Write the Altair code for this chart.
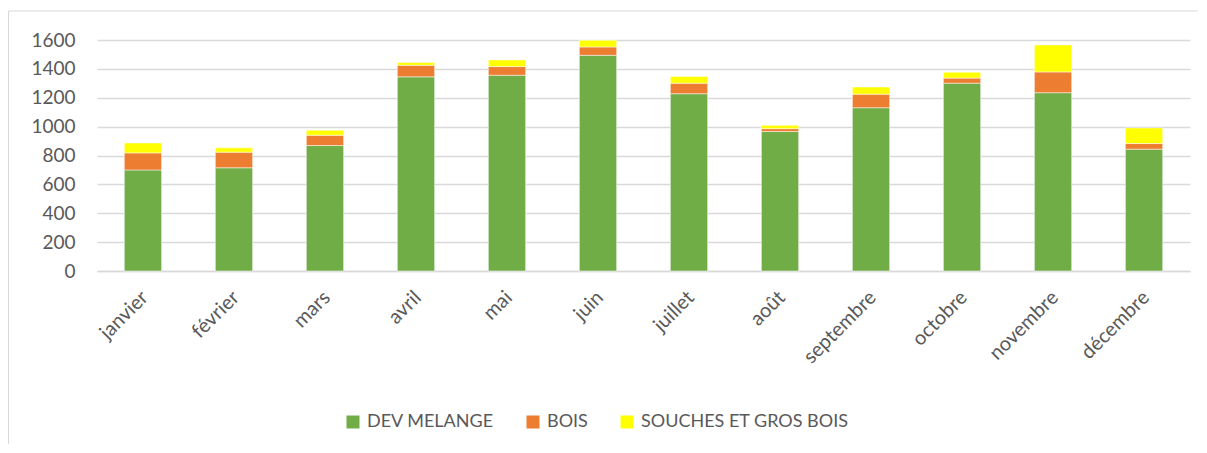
import altair as alt
import pandas as pd

months = ["janvier", "février", "mars", "avril", "mai", "juin", "juillet",
          "août", "septembre", "octobre", "novembre", "décembre"]
dev_melange = [700, 715, 869, 1345, 1356, 1494, 1228, 966, 1131, 1301, 1235, 844]
bois = [118, 108, 71, 80, 60, 58, 73, 20, 94, 35, 144, 39]
souches = [69, 30, 35, 19, 46, 46, 46, 23, 49, 41, 187, 108]
series = ["DEV MELANGE", "BOIS", "SOUCHES ET GROS BOIS"]
colors = ["#70AD47", "#ED7D31", "#FFFF00"]

rows = []
for i, m in enumerate(months):
    for k, (name, vals) in enumerate(zip(series, [dev_melange, bois, souches])):
        rows.append({"mois": m, "serie": name, "valeur": vals[i], "ordre": k})
df = pd.DataFrame(rows)

font = "Lato"

bars = alt.Chart(df).mark_bar(stroke="white", strokeWidth=0.5).encode(
    x=alt.X("mois:N", sort=months, title=None,
            scale=alt.Scale(paddingInner=0.59, paddingOuter=0.3),
            axis=alt.Axis(labelAngle=-45, ticks=False, domain=True, domainColor="#D9D9D9",
                          domainWidth=1.5, labelFontSize=20, labelColor="#595959",
                          labelFont=font, labelPadding=16, labelOffset=-5)),
    y=alt.Y("valeur:Q", stack="zero", title=None,
            scale=alt.Scale(domain=[0, 1600], nice=False),
            axis=alt.Axis(values=list(range(0, 1601, 200)), format="d", domain=False, ticks=False,
                          gridColor="#D9D9D9", gridWidth=1.5, labelFontSize=19,
                          labelColor="#595959", labelFont=font, labelPadding=22)),
    color=alt.Color("serie:N", sort=series, title=None,
                    scale=alt.Scale(domain=series, range=colors),
                    legend=alt.Legend(orient="none", legendX=247, legendY=373, direction="horizontal",
                                      symbolType="square", symbolSize=169, symbolStrokeWidth=0,
                                      labelFontSize=18, labelColor="#595959", labelFont=font,
                                      columnPadding=30, labelOffset=5, labelLimit=400)),
    order=alt.Order("ordre:Q"),
)

# light outer frame of the chart area (decoration only): left and top edges
frame_df = pd.DataFrame({"k": [0]})
frame_left = alt.Chart(frame_df).mark_rule(color="#D9D9D9", strokeWidth=1.2).encode(
    x=alt.value(-88.5), y=alt.value(-29), y2=alt.value(404))
frame_top = alt.Chart(frame_df).mark_rule(color="#D9D9D9", strokeWidth=1.2).encode(
    x=alt.value(-88.5), x2=alt.value(1101), y=alt.value(-29))

chart = alt.layer(frame_left, frame_top, bars).properties(
    width=1093, height=231,
    autosize=alt.AutoSizeParams(type="none"),
    padding={"left": 89, "top": 32, "right": 9, "bottom": 174},
    background="white",
).configure_view(stroke=None)

chart.save("out.html", embed_options={"renderer": "svg", "actions": False})
